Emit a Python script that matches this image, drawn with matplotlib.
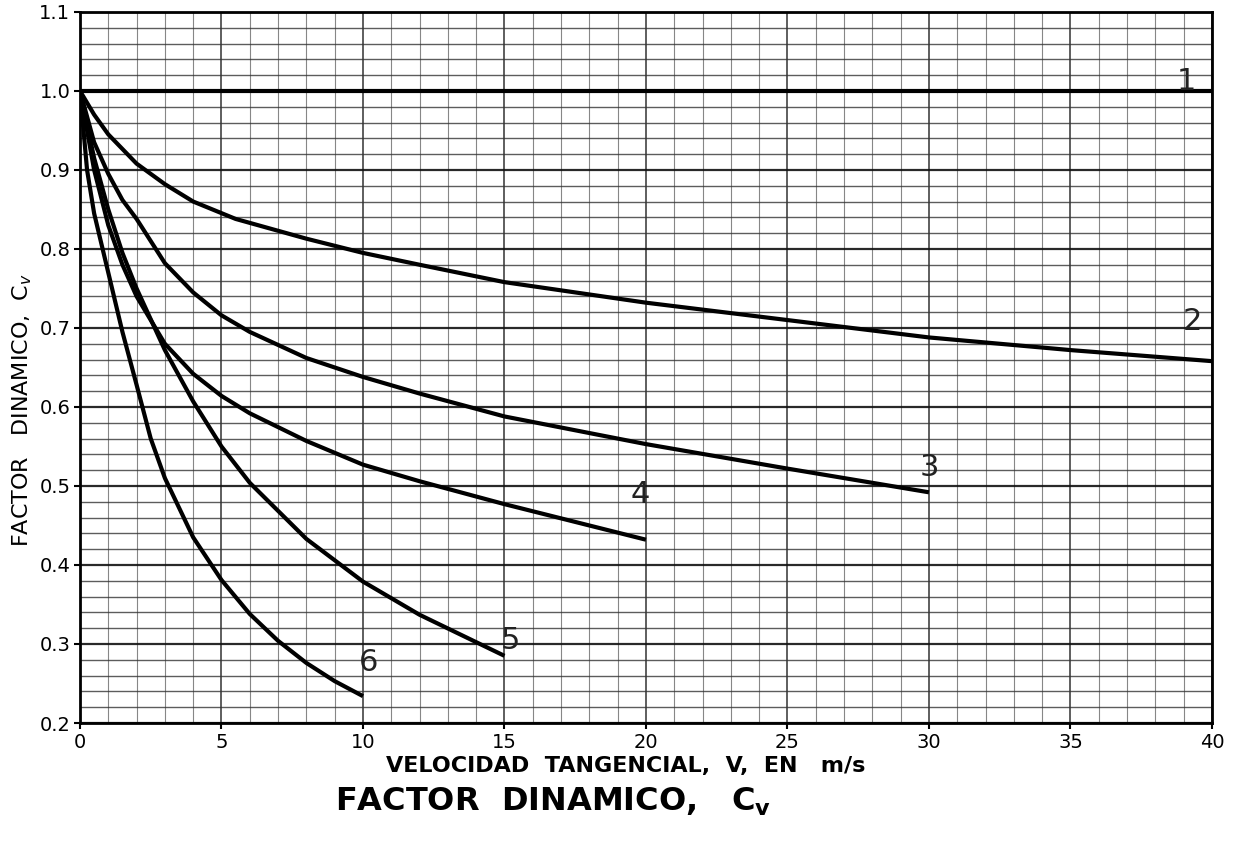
import numpy as np
import matplotlib
matplotlib.use("Agg")
import matplotlib.pyplot as plt

# curve 1: flat line
v1 = [0, 40]
cv1 = [1.0, 1.0]
# curve 2
v2 = [0, 0.5, 1, 2, 3, 4, 5.5, 8, 10, 12, 15, 20, 25, 30, 35, 40]
cv2 = [1.0, 0.97, 0.945, 0.908, 0.882, 0.86, 0.838, 0.813, 0.795, 0.78, 0.758, 0.732, 0.71, 0.688, 0.672, 0.658]
# curve 3
v3 = [0, 0.5, 1, 1.5, 2, 3, 4, 5, 6, 8, 10, 12, 15, 20, 25, 30]
cv3 = [1.0, 0.935, 0.895, 0.862, 0.838, 0.782, 0.745, 0.716, 0.695, 0.662, 0.638, 0.617, 0.588, 0.553, 0.522, 0.492]
# curve 4
v4 = [0, 0.5, 1, 1.5, 2, 3, 4, 5, 6, 8, 10, 12, 15, 20]
cv4 = [1.0, 0.9, 0.83, 0.78, 0.74, 0.68, 0.642, 0.614, 0.592, 0.557, 0.527, 0.506, 0.477, 0.432]
# curve 5
v5 = [0, 0.5, 1, 1.5, 2, 3, 4, 5, 6, 8, 10, 12, 15]
cv5 = [1.0, 0.915, 0.85, 0.795, 0.75, 0.672, 0.607, 0.55, 0.504, 0.433, 0.379, 0.337, 0.285]
# curve 6
v6 = [0, 0.25, 0.5, 1, 1.5, 2, 2.5, 3, 4, 5, 6, 7, 8, 9, 10]
cv6 = [1.0, 0.9, 0.845, 0.77, 0.695, 0.628, 0.56, 0.51, 0.435, 0.381, 0.338, 0.304, 0.276, 0.253, 0.234]

curve_labels = ["1", "2", "3", "4", "5", "6"]
label_v = [39.1, 39.3, 30.0, 19.8, 15.2, 10.2]
label_cv = [1.012, 0.708, 0.523, 0.489, 0.305, 0.277]

xticks = [0, 5, 10, 15, 20, 25, 30, 35, 40]
yticks = [0.2, 0.3, 0.4, 0.5, 0.6, 0.7, 0.8, 0.9, 1.0, 1.1]

fig = plt.figure(figsize=(12.42, 8.52), dpi=100)
ax = fig.add_axes([0.0644, 0.1514, 0.9114, 0.8346])
ax.set_xlim(0, 40)
ax.set_ylim(0.2, 1.1)

# graph paper
for x in np.arange(0, 41, 1):
    major = (x % 5 == 0)
    ax.axvline(x, color='#222222' if major else '#555555', lw=1.2 if major else 0.8,
               alpha=0.85 if major else 0.7, zorder=1)
for y in np.arange(0.2, 1.1001, 0.02):
    major = abs(round(y * 10) - y * 10) < 1e-6
    ax.axhline(y, color='#111111' if major else '#333333', lw=1.6 if major else 1.0,
               alpha=0.9 if major else 0.8, zorder=1)

for vs, cs in [(v1, cv1), (v2, cv2), (v3, cv3), (v4, cv4), (v5, cv5), (v6, cv6)]:
    ax.plot(vs, cs, color='black', lw=3.0, solid_capstyle='butt', zorder=3)

for lab, lx, ly in zip(curve_labels, label_v, label_cv):
    ax.text(lx, ly, lab, fontsize=22, ha='center', va='center', color='#222222', zorder=4)

for s in ax.spines.values():
    s.set_color('black')
    s.set_linewidth(2)

ax.set_xticks(xticks)
ax.set_yticks(yticks)
ax.set_xticklabels([str(t) for t in xticks], fontsize=14)
ax.set_yticklabels(["{:.1f}".format(t) for t in yticks], fontsize=14)
ax.tick_params(axis='both', length=4, width=1.5, direction='out', pad=3)

fig.text(0.018, 0.519, "FACTOR   DINAMICO,  C$_v$", fontsize=16, rotation=90,
         ha='center', va='center')
fig.text(0.504, 0.101, "VELOCIDAD  TANGENCIAL,  V,  EN   m/s", fontsize=16,
         ha='center', va='center', fontweight='bold')
fig.text(0.445, 0.059, "FACTOR  DINAMICO,   C$_\\mathbf{v}$", fontsize=23,
         ha='center', va='center', fontweight='bold')

plt.savefig("out.png", dpi=100)
